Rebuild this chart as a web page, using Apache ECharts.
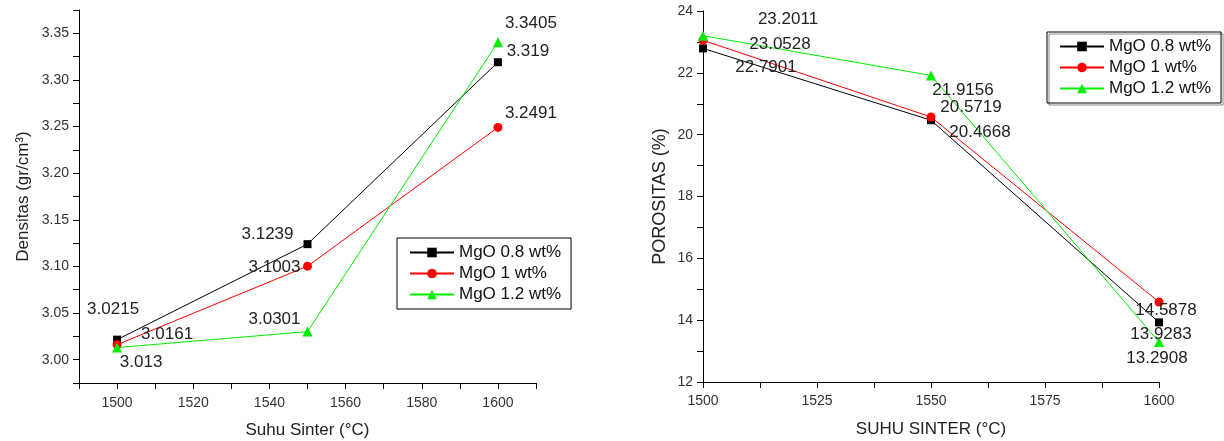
<!DOCTYPE html>
<html>
<head>
<meta charset="utf-8">
<script src="https://cdn.jsdelivr.net/npm/echarts@6/dist/echarts.min.js"></script>
<style>
	html, body { margin: 0; padding: 0; background: #fff; }
	#chart { width: 1224px; height: 441px; }
</style>
</head>
<body>
<div id="chart"></div>
<script>
// data
var temps = [1500, 1550, 1600];
var seriesNames = ['MgO 0.8 wt%', 'MgO 1 wt%', 'MgO 1.2 wt%'];
var density08 = [3.0215, 3.1239, 3.319];
var density10 = [3.0161, 3.1003, 3.2491];
var density12 = [3.013, 3.0301, 3.3405];
var porosity08 = [22.7901, 20.4668, 13.9283];
var porosity10 = [23.0528, 20.5719, 14.5878];
var porosity12 = [23.2011, 21.9156, 13.2908];

// label offsets (layout only)
var densityOffsets = [
	[[-4, -30], [-40, -10], [30, -11]],
	[[50, -10], [-33, 1], [33, -14]],
	[[24, 15], [-33, -12], [33, -19]]
];
var porosityOffsets = [
	[[63, 19], [49, 12], [2, 12]],
	[[77, 4], [40, -10], [7, 8]],
	[[85, -16], [32, 15], [-2, 16]]
];

var colors = ['#000000', '#ff0000', '#00ee00'];
var symbols = ['rect', 'circle', 'triangle'];
var symbolSizes = [8, 9, 10];
var font = 'Liberation Sans, Arial, sans-serif';

drawCharts();

function makeSeries(idx, values, offsets, axisIndex) {
	return {
		name: seriesNames[idx],
		type: 'line',
		xAxisIndex: axisIndex,
		yAxisIndex: axisIndex,
		symbol: symbols[idx],
		symbolSize: symbolSizes[idx],
		itemStyle: { color: colors[idx] },
		lineStyle: { color: colors[idx], width: 1 },
		data: temps.map(function(t, i) {
			return {
				value: [t, values[i]],
				label: { offset: offsets[idx][i] }
			};
		}),
		label: {
			show: true,
			position: 'inside',
			align: 'center',
			verticalAlign: 'middle',
			color: '#222',
			fontSize: 17,
			fontFamily: font,
			formatter: function(p) { return String(p.value[1]); }
		},
		emphasis: { disabled: true }
	};
}

function axisText() {
	return { color: '#333', fontSize: 14, fontFamily: font };
}

function nameText(size) {
	return { color: '#222', fontSize: size, fontFamily: font };
}

function drawCharts() {
	var chart = echarts.init(document.getElementById('chart'));
	var axisLine = { show: true, lineStyle: { color: '#000', width: 1 } };
	var axisTick = { show: true, length: 6, lineStyle: { color: '#000' } };
	var legendBase = {
		orient: 'vertical',
		data: seriesNames,
		itemWidth: 44,
		itemHeight: 12,
		itemGap: 4,
		padding: [6, 10, 6, 12],
		borderColor: '#000',
		borderWidth: 1,
		textStyle: { color: '#111', fontSize: 17, fontFamily: font, lineHeight: 17 },
		selectedMode: false
	};
	var option = {
		animation: false,
		backgroundColor: '#fff',
		legend: [
			Object.assign({ left: 397, top: 238 }, legendBase),
			Object.assign({ left: 1047, top: 32, shadowColor: 'rgba(0,0,0,0.45)', shadowOffsetX: 2, shadowOffsetY: 2, shadowBlur: 0 }, legendBase)
		],
		grid: [
			{ left: 79, top: 10, width: 457, height: 373, outerBoundsMode: 'none' },
			{ left: 703, top: 11, width: 456, height: 371, outerBoundsMode: 'none' }
		],
		xAxis: [{
			type: 'value', gridIndex: 0,
			min: 1490, max: 1610, interval: 10,
			name: 'Suhu Sinter (°C)', nameLocation: 'middle', nameGap: 39,
			nameTextStyle: nameText(17),
			axisLine: axisLine, axisTick: axisTick,
			axisLabel: Object.assign({ margin: 13, formatter: function(v) { return v % 20 === 0 ? v : ''; } }, axisText()),
			splitLine: { show: false }
		}, {
			type: 'value', gridIndex: 1,
			min: 1500, max: 1600, interval: 12.5,
			name: 'SUHU SINTER (°C)', nameLocation: 'middle', nameGap: 39,
			nameTextStyle: nameText(17),
			axisLine: axisLine, axisTick: axisTick,
			axisLabel: Object.assign({ margin: 12, formatter: function(v) { return v % 25 === 0 ? v : ''; } }, axisText()),
			splitLine: { show: false }
		}],
		yAxis: [{
			type: 'value', gridIndex: 0,
			min: 2.975, max: 3.375, interval: 0.025,
			name: 'Densitas (gr/cm³)', nameLocation: 'middle', nameGap: 47,
			nameTextStyle: nameText(17),
			axisLine: axisLine, axisTick: axisTick,
			axisLabel: Object.assign({ margin: 10, formatter: function(v) {
				var k = Math.round(v * 1000);
				return k % 50 === 0 ? (k / 1000).toFixed(2) : '';
			} }, axisText()),
			splitLine: { show: false }
		}, {
			type: 'value', gridIndex: 1,
			min: 12, max: 24, interval: 1,
			name: 'POROSITAS (%)', nameLocation: 'middle', nameGap: 34,
			nameTextStyle: nameText(18),
			axisLine: axisLine, axisTick: axisTick,
			axisLabel: Object.assign({ margin: 10, formatter: function(v) { return v % 2 === 0 ? v : ''; } }, axisText()),
			splitLine: { show: false }
		}],
		series: [
			makeSeries(0, density08, densityOffsets, 0),
			makeSeries(1, density10, densityOffsets, 0),
			makeSeries(2, density12, densityOffsets, 0),
			makeSeries(0, porosity08, porosityOffsets, 1),
			makeSeries(1, porosity10, porosityOffsets, 1),
			makeSeries(2, porosity12, porosityOffsets, 1)
		]
	};
	chart.setOption(option);
}
</script>
</body>
</html>
